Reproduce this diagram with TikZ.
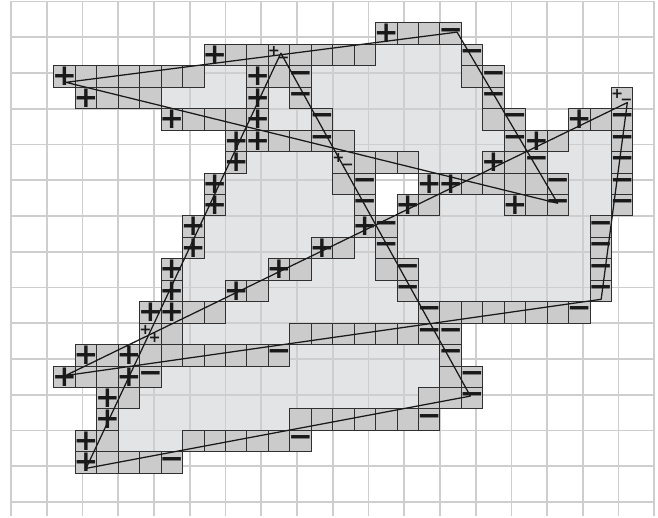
\documentclass[tikz,border=0pt]{standalone}
\usepackage{fontspec}
\newfontfamily\signfont{DejaVu Sans}
\usepackage{tikz}
\usepackage{xcolor}
\definecolor{celllight}{RGB}{227,228,230}
\definecolor{celldark}{RGB}{203,203,204}
\definecolor{gridgrey}{RGB}{206,206,206}
\definecolor{inkblack}{RGB}{25,25,25}

% row/first column/last column (row 0 at the top)
\newcommand{\lightruns}{2/17/20, 3/9/10, 3/14/20, 4/7/10, 4/12/12, 4/14/21,
  5/12/13, 5/15/21, 6/16/22, 6/26/27, 7/11/14, 7/19/21, 7/25/27, 8/10/14, 8/26/27,
  9/10/15, 9/20/22, 9/26/27, 10/9/15, 10/18/26, 11/9/13, 11/16/16, 11/18/26,
  12/8/11, 12/14/16, 12/19/26, 13/8/9, 13/12/17, 13/19/26, 14/10/18, 15/8/12,
  16/13/19, 17/7/19, 18/6/18, 19/5/12, 20/5/7}
\newcommand{\darkruns}{1/17/20, 2/9/16, 2/21/21, 3/2/8, 3/11/13, 3/21/22,
  4/3/6, 4/11/11, 4/13/13, 4/22/22, 4/28/28, 5/7/11, 5/14/14, 5/22/23, 5/26/28,
  6/10/15, 6/23/25, 6/28/28, 7/10/10, 7/15/18, 7/22/24, 7/28/28,
  8/9/9, 8/15/16, 8/19/25, 8/28/28, 9/9/9, 9/16/16, 9/18/19, 9/23/25, 9/28/28,
  10/8/8, 10/16/17, 10/27/27, 11/8/8, 11/14/15, 11/17/17, 11/27/27,
  12/7/7, 12/12/13, 12/17/18, 12/27/27, 13/7/7, 13/10/11, 13/18/18, 13/27/27,
  14/6/9, 14/19/26, 15/6/7, 15/13/20, 16/3/12, 16/20/20, 17/2/6, 17/20/21,
  18/4/5, 18/19/21, 19/4/4, 19/13/19, 20/3/4, 20/8/13, 21/3/7}
% column/row of the marks
\newcommand{\plusmarks}{17/1, 9/2, 2/3, 11/3, 3/4, 11/4, 7/5, 11/5, 26/5, 10/6, 11/6,
  24/6, 10/7, 22/7, 9/8, 19/8, 20/8, 9/9, 18/9, 23/9, 8/10, 16/10, 8/11, 14/11,
  7/12, 12/12, 7/13, 10/13, 6/14, 7/14, 3/16, 5/16, 2/17, 5/17, 4/18, 4/19, 3/20, 3/21}
\newcommand{\minusmarks}{20/1, 21/2, 13/3, 22/3, 13/4, 22/4, 14/5, 23/5, 28/5, 14/6,
  23/6, 28/6, 24/7, 28/7, 16/8, 25/8, 28/8, 16/9, 25/9, 28/9, 17/10, 27/10, 17/11,
  27/11, 18/12, 27/12, 18/13, 27/13, 19/14, 26/14, 19/15, 20/15, 12/16, 20/16,
  6/17, 21/17, 21/18, 19/19, 13/20, 7/21}

\begin{document}
\begin{tikzpicture}[x=0.6cm, y=-0.6cm,
    lightcell/.style={fill=celllight},
    darkcell/.style={fill=celldark},
    cellframe/.style={draw=inkblack!90, line width=0.8pt},
    gridline/.style={draw=gridgrey, line width=1.4pt},
    polyedge/.style={draw=inkblack, line width=1pt, line join=round},
    signmark/.style={inner sep=0pt, text=inkblack,
        font=\signfont\bfseries\fontsize{23.5}{23.5}\selectfont},
    smallmark/.style={signmark, font=\signfont\bfseries\fontsize{11.5}{11.5}\selectfont}
]
    \useasboundingbox (-0.513,-0.07) rectangle (30.17,24.04);

    % covered cells
    \foreach \r/\a/\b in \lightruns
        \fill[lightcell] (\a,\r) rectangle (\b+1,\r+1);
    \draw[gridline] (0,0) grid (30,24);
    \foreach \r/\a/\b in \darkruns
        \fill[darkcell] (\a,\r) rectangle (\b+1,\r+1);
    \foreach \r/\a/\b in \darkruns {
        \foreach \c in {\a,...,\b}
            \draw[cellframe] (\c,\r) rectangle ++(1,1);
    }

    % the three triangles
    \coordinate (a1) at (2.566,3.770);
    \coordinate (a2) at (20.80,1.428);
    \coordinate (a3) at (25.49,9.407);
    \coordinate (b1) at (12.585,2.408);
    \coordinate (b2) at (21.42,18.40);
    \coordinate (b3) at (3.50,21.77);
    \coordinate (c1) at (28.74,4.713);
    \coordinate (c2) at (27.52,13.887);
    \coordinate (c3) at (2.543,17.443);
    \draw[polyedge] (a1) -- (a2) -- (a3) -- cycle;
    \draw[polyedge] (b1) -- (b2) -- (b3) -- cycle;
    \draw[polyedge] (c1) -- (c2) -- (c3) -- cycle;

    % winding marks
    \foreach \c/\r [count=\i] in \plusmarks
        \node[signmark] (plus\i) at (\c+0.5,\r+0.5) {+};
    \foreach \c/\r [count=\i] in \minusmarks
        \node[signmark] (minus\i) at (\c+0.5,\r+0.5) {−};
    \foreach \c/\r/\s/\t [count=\i] in {12/2/+/−, 28/4/+/−, 15/7/+/−, 6/15/+/+} {
        \node[smallmark] (first\i) at (\c+0.265,\r+0.31) {\s};
        \node[smallmark] (second\i) at (\c+0.7,\r+0.7) {\t};
    }
\end{tikzpicture}
\end{document}
